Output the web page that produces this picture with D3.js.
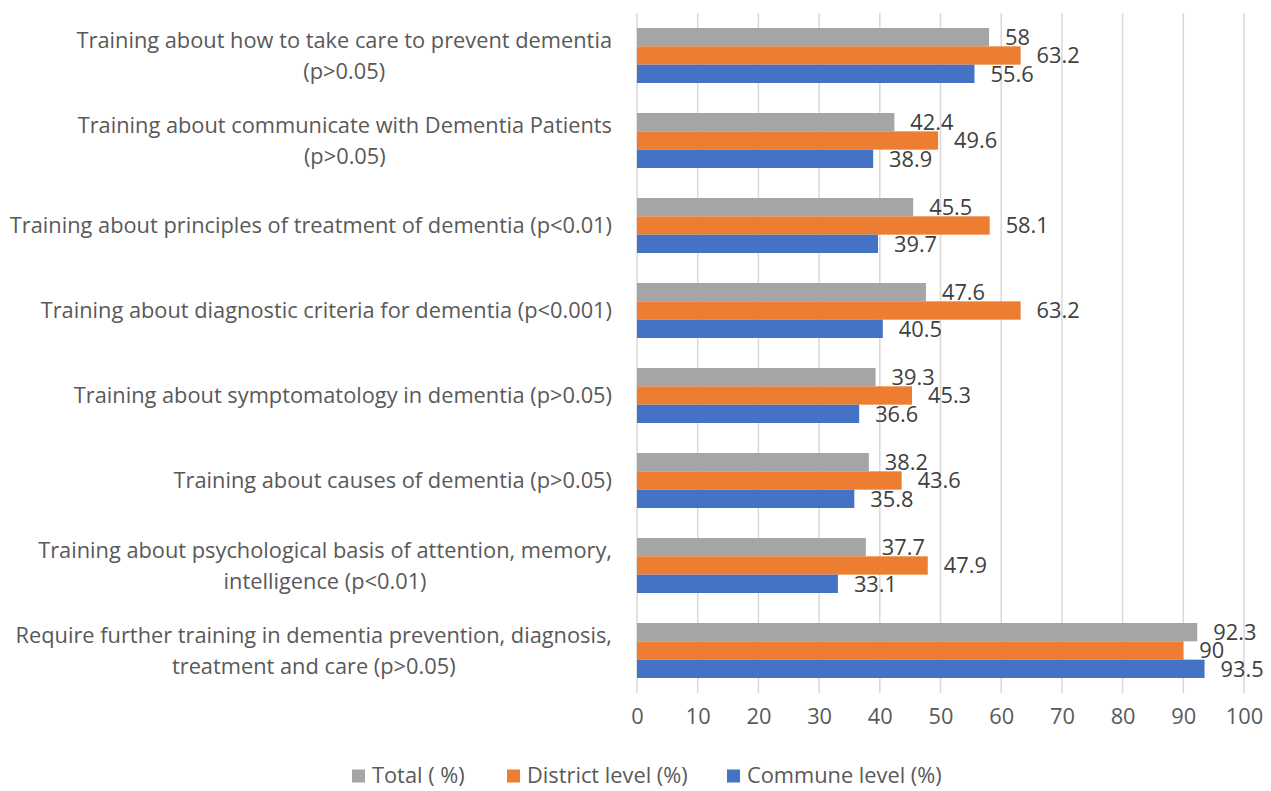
<!DOCTYPE html>
<html>
<head>
<meta charset="utf-8">
<script src="https://cdn.jsdelivr.net/npm/d3@7"></script>
<style>
  body { margin: 0; background: #fff; }
  svg { font-family: "Open Sans", sans-serif; }
</style>
</head>
<body>
<div id="viz_container"></div>
<script>
// Data /////////////////////////////////////////////
const categories = [
  ["Training about how to take care to prevent dementia", "(p>0.05)"],
  ["Training about communicate with Dementia Patients", "(p>0.05)"],
  ["Training about principles of treatment of dementia (p<0.01)"],
  ["Training about diagnostic criteria for dementia (p<0.001)"],
  ["Training about symptomatology in dementia (p>0.05)"],
  ["Training about causes of dementia (p>0.05)"],
  ["Training about psychological basis of attention, memory,", "intelligence (p<0.01)"],
  ["Require further training in dementia prevention, diagnosis,", "treatment and care (p>0.05)"]
];
const seriesNames = ["Total ( %)", "District level (%)", "Commune level (%)"];
const totalValues    = [58, 42.4, 45.5, 47.6, 39.3, 38.2, 37.7, 92.3];
const districtValues = [63.2, 49.6, 58.1, 63.2, 45.3, 43.6, 47.9, 90];
const communeValues  = [55.6, 38.9, 39.7, 40.5, 36.6, 35.8, 33.1, 93.5];
const xTicks = [0, 10, 20, 30, 40, 50, 60, 70, 80, 90, 100];

const colors = ["#A5A5A5", "#ED7D31", "#4472C4"];
const allSeries = [totalValues, districtValues, communeValues];

// Layout
const W = 1271, H = 791;
const x0 = 637, x1 = 1244;
const yTop = 13, yBottom = 693;
const fs = "21.8px";

const svg = d3.select("#viz_container")
  .append("svg")
    .attr("width", W)
    .attr("height", H);

const x = d3.scaleLinear().domain([0, 100]).range([x0, x1]);

const y = d3.scaleBand()
  .domain(d3.range(categories.length))
  .range([yTop, yBottom])
  .paddingInner(0.353)
  .paddingOuter(0.1765);

const ySub = d3.scaleBand()
  .domain(d3.range(seriesNames.length))
  .range([0, y.bandwidth()]);

// gridlines
svg.append("g")
  .selectAll("line")
  .data(xTicks)
  .join("line")
    .attr("x1", d => x(d)).attr("x2", d => x(d))
    .attr("y1", yTop).attr("y2", yBottom)
    .attr("stroke", "#D9D9D9")
    .attr("stroke-width", 1.5);

// x axis tick labels
svg.append("g")
  .attr("transform", `translate(0,${yBottom})`)
  .call(d3.axisBottom(x).tickValues(xTicks).tickSize(0).tickPadding(16))
  .call(g => g.select(".domain").remove())
  .call(g => g.selectAll("text")
    .attr("fill", "#595959")
    .style("font-size", fs)
    .style("font-family", "'Open Sans', sans-serif"));

// bars + value labels
allSeries.forEach((vals, s) => {
  const g = svg.append("g");
  g.selectAll("rect")
    .data(vals)
    .join("rect")
      .attr("x", x(0))
      .attr("y", (d, i) => y(i) + ySub(s))
      .attr("width", d => x(d) - x(0))
      .attr("height", ySub.bandwidth())
      .attr("fill", colors[s]);

  g.selectAll("text")
    .data(vals)
    .join("text")
      .attr("x", d => x(d) + 16)
      .attr("y", (d, i) => y(i) + ySub(s) + ySub.bandwidth() / 2)
      .attr("dy", "0.36em")
      .attr("fill", "#404040")
      .style("font-size", fs)
      .text(d => d);
});

// category labels (centered lines, right edge at 612)
const lineH = 31;
categories.forEach((lines, i) => {
  const cy = y(i) + y.bandwidth() / 2;
  const t = svg.append("text")
    .attr("text-anchor", "middle")
    .attr("fill", "#595959")
    .style("font-size", fs);
  lines.forEach((ln, k) => {
    t.append("tspan")
      .attr("y", cy + (k - (lines.length - 1) / 2) * lineH)
      .attr("dy", "0.36em")
      .text(ln);
  });
  let maxW = 0;
  t.selectAll("tspan").each(function() { maxW = Math.max(maxW, this.getComputedTextLength()); });
  t.selectAll("tspan").attr("x", 612 - maxW / 2);
});

// legend
const legendY = 776;
const legendX = [352, 507, 727];
seriesNames.forEach((name, s) => {
  svg.append("rect")
    .attr("x", legendX[s]).attr("y", legendY - 6.5)
    .attr("width", 13).attr("height", 13)
    .attr("fill", colors[s]);
  svg.append("text")
    .attr("x", legendX[s] + 20).attr("y", legendY)
    .attr("dy", "0.34em")
    .attr("fill", "#595959")
    .style("font-size", fs)
    .text(name);
});
</script>
</body>
</html>
